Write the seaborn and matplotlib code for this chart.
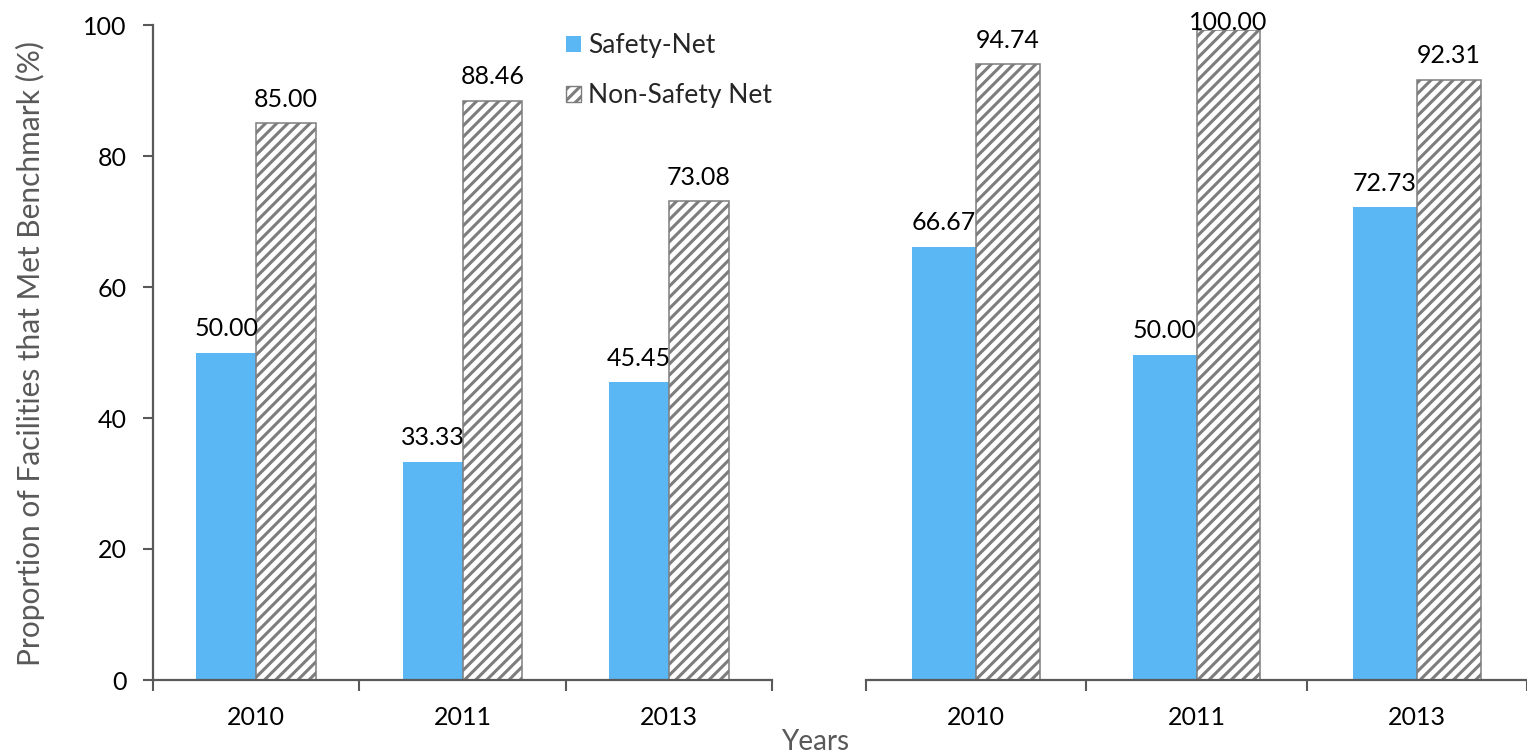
import matplotlib
matplotlib.use("Agg")
import matplotlib.pyplot as plt
from matplotlib.patches import Patch
import numpy as np
import pandas as pd
import seaborn as sns

# Data
years = ["2010", "2011", "2013"]
groups = ["Safety-Net", "Non-Safety Net"]
left_safety = [50.00, 33.33, 45.45]
left_non_safety = [85.00, 88.46, 73.08]
right_safety = [66.67, 50.00, 72.73]
right_non_safety = [94.74, 100.00, 92.31]
y_ticks = [0, 20, 40, 60, 80, 100]

BLUE = "#5AB7F4"
HATCH_GRAY = "#7d7d7d"
AXIS_GRAY = "#595959"
FS = 18

sns.set_theme(style="white")
plt.rcParams["font.family"] = ["Lato", "DejaVu Sans"]
plt.rcParams["hatch.linewidth"] = 2.2

W, H = 1527, 752
fig = plt.figure(figsize=(W / 100, H / 100), dpi=100)
ax1 = fig.add_axes([153 / W, 1 - 680 / H, (772 - 153) / W, 655 / H])
ax2 = fig.add_axes([866 / W, 1 - 680 / H, (1527 - 866) / W, 650 / H])


def draw_panel(ax, safety, non_safety, x_right):
    df = pd.DataFrame({
        "Year": years * 2,
        "Value": safety + non_safety,
        "Group": [groups[0]] * len(years) + [groups[1]] * len(years),
    })
    sns.barplot(data=df, x="Year", y="Value", hue="Group", order=years,
                hue_order=groups, palette=[BLUE, "white"], width=0.58,
                saturation=1, errorbar=None, legend=False, ax=ax)
    for bar in ax.containers[0]:
        bar.set_edgecolor("none")
        bar.set_linewidth(0)
    for bar in ax.containers[1]:
        bar.set_facecolor("white")
        bar.set_edgecolor(HATCH_GRAY)
        bar.set_hatch("///")
        bar.set_linewidth(1.1)

    ax.set_ylim(0, 100)
    ax.set_xlim(-0.5, x_right)

    # value labels above each bar; a bar reaching the top gets its label
    # tucked down so it stays inside the figure
    for cont in ax.containers:
        for bar in cont:
            h = bar.get_height()
            cx = bar.get_x() + bar.get_width() / 2
            dy = 0 if h >= ax.get_ylim()[1] else 12
            ax.annotate(f"{h:.2f}", (cx, h), xytext=(0, dy),
                        textcoords="offset points", ha="center",
                        va="baseline", fontsize=FS, color="black")

    ax.set_xlabel("")
    ax.set_ylabel("")
    # category boundaries as major ticks, year labels on minor ticks
    ax.set_xticks([-0.5, 0.5, 1.5, 2.5])
    ax.set_xticklabels([])
    ax.set_xticks(range(len(years)), minor=True)
    ax.set_xticklabels(years, minor=True)
    ax.tick_params(axis="x", which="major", direction="out", length=8,
                   width=1.5, color=AXIS_GRAY, bottom=True)
    ax.tick_params(axis="x", which="minor", length=0, pad=19,
                   labelsize=FS, labelcolor="black")
    for side in ["top", "right"]:
        ax.spines[side].set_visible(False)
    ax.spines["bottom"].set_color(AXIS_GRAY)
    ax.spines["bottom"].set_linewidth(1.6)


draw_panel(ax1, left_safety, left_non_safety, 2.5)
draw_panel(ax2, right_safety, right_non_safety, -0.5 + (1527 - 866) / 223)

ax1.set_yticks(y_ticks)
ax1.tick_params(axis="y", direction="out", length=7, width=1.5,
                color=AXIS_GRAY, pad=12, labelsize=FS, labelcolor="black",
                left=True)
ax1.spines["left"].set_color(AXIS_GRAY)
ax1.spines["left"].set_linewidth(1.6)

ax2.set_yticks([])
ax2.spines["left"].set_visible(False)

fig.text(30 / W, 1 - 354 / H, "Proportion of Facilities that Met Benchmark (%)",
         rotation=90, ha="center", va="center", fontsize=21.5, color=AXIS_GRAY)
fig.text(815 / W, 1 - 742 / H, "Years", ha="center", va="center",
         fontsize=20, color=AXIS_GRAY)

handles = [
    Patch(facecolor=BLUE, edgecolor="none", label=groups[0]),
    Patch(facecolor="white", edgecolor=HATCH_GRAY, hatch="///", label=groups[1]),
]
fig.legend(handles=handles, loc="upper left", bbox_to_anchor=(566 / W, 1 - 33 / H),
           frameon=False, fontsize=19, handlelength=0.55, handleheight=0.55,
           handletextpad=0.3, labelspacing=0.95, borderpad=0, borderaxespad=0)

fig.savefig("out.png", dpi=100)
